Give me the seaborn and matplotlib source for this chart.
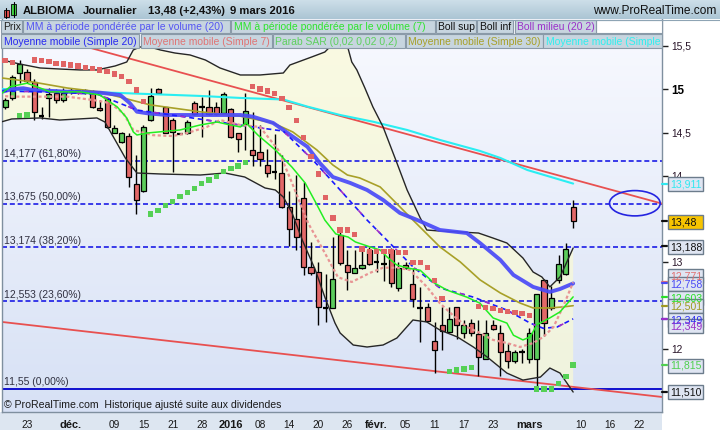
import numpy as np
import pandas as pd
import matplotlib
matplotlib.use("Agg")
import matplotlib.pyplot as plt
import matplotlib.transforms as mtrans
from matplotlib.colors import LinearSegmentedColormap
from matplotlib.patches import Rectangle, Ellipse
import seaborn as sns

sns.set_style("white")
plt.rcParams['font.family'] = ['Liberation Sans', 'DejaVu Sans']

# ---- daily candles, index 0 = 23 nov 2015, 75 = 9 mars 2016 ----
day_idx = list(range(-3, 76))
opens = [14.796, 14.896, 15.185, 15.203, 15.088, 14.70, 14.896, 14.954, 14.876, 14.97,
         14.985, 14.97, 14.972, 14.78, 14.885, 14.50, 14.388, 14.46, 13.906, 13.826,
         14.645, 15.0, 14.79, 14.645, 14.495, 14.49, 14.84, 14.80, 14.80, 14.80,
         14.73, 14.77, 14.49, 14.60, 14.30, 14.27, 14.126, 14.05, 14.037, 13.637,
         13.50, 13.74, 12.95, 12.894, 12.48, 12.47, 13.318, 12.97, 12.882, 12.933,
         13.144, 13.01, 12.995, 13.144, 12.702, 12.97, 12.752, 12.48, 12.483, 12.097,
         12.278, 12.20, 12.483, 12.19, 12.305, 12.174, 11.882, 12.278, 12.183, 11.98,
         11.866, 11.97, 11.882, 11.882, 12.798, 12.47, 12.798, 12.867, 13.637]
highs = [14.90, 15.165, 15.338, 15.234, 15.12, 14.796, 15.015, 15.003, 15.02, 15.02,
         15.0, 15.0, 14.99, 14.876, 14.91, 14.588, 14.51, 14.495, 14.24, 14.588,
         15.01, 15.02, 14.8, 14.668, 14.5, 14.64, 14.86, 14.915, 14.99, 14.85,
         14.97, 14.78, 14.5, 14.96, 14.74, 14.59, 14.307, 14.48, 14.24, 13.82,
         14.01, 13.93, 13.24, 13.009, 12.867, 13.29, 13.383, 13.144, 13.144, 13.18,
         13.18, 13.125, 13.144, 13.164, 13.009, 13.01, 12.933, 12.72, 12.53, 12.317,
         12.49, 12.49, 12.49, 12.336, 12.344, 12.336, 12.336, 12.336, 12.278, 12.067,
         11.99, 12.0, 12.24, 12.633, 12.806, 12.729, 13.087, 13.229, 13.72]
lows = [14.77, 14.876, 15.073, 15.073, 14.645, 14.657, 14.68, 14.84, 14.857, 14.94,
        14.95, 14.94, 14.78, 14.75, 14.55, 14.49, 14.376, 13.876, 13.557, 13.81,
        14.634, 14.957, 14.49, 14.049, 14.48, 14.48, 14.70, 14.45, 14.70, 14.70,
        14.72, 14.44, 14.28, 14.30, 14.11, 14.11, 13.984, 13.96, 13.626, 13.19,
        13.14, 12.856, 12.855, 12.278, 12.317, 12.47, 12.97, 12.683, 12.88, 12.93,
        12.97, 12.894, 12.786, 12.714, 12.674, 12.93, 12.483, 12.086, 12.32, 11.727,
        11.99, 12.20, 12.113, 12.125, 12.151, 11.69, 11.88, 12.22, 11.69, 11.778,
        11.836, 11.843, 11.836, 11.55, 12.151, 12.45, 12.764, 12.855, 13.395]
closes = [14.876, 15.139, 15.292, 15.099, 14.741, 14.69, 14.942, 14.876, 14.954, 14.99,
          14.975, 14.98, 14.80, 14.757, 14.568, 14.55, 14.49, 13.99, 13.72, 14.568,
          14.926, 14.96, 14.50, 14.51, 14.485, 14.626, 14.72, 14.80, 14.72, 14.72,
          14.94, 14.45, 14.43, 14.75, 14.24, 14.20, 14.037, 14.04, 13.644, 13.383,
          13.29, 12.95, 12.88, 12.483, 12.475, 12.806, 12.99, 12.894, 12.933, 12.97,
          12.98, 13.00, 12.985, 12.76, 12.933, 12.933, 12.575, 12.475, 12.324, 11.99,
          12.21, 12.344, 12.278, 12.278, 12.19, 11.912, 12.19, 12.229, 11.97, 11.866,
          11.97, 11.965, 12.183, 12.633, 12.305, 12.587, 12.98, 13.152, 13.48]

# ---- parabolic SAR ----
sar_vals = [15.33, 15.307, 14.695, 14.703, 15.338, 15.33, 15.319, 15.30, 15.292, 15.28,
            15.269, 15.25, 15.238, 15.223, 15.203, 15.177, 15.145, 15.088, 14.99, 14.857,
            13.56, 13.598, 13.656, 13.702, 13.76, 13.806, 13.857, 13.915, 13.953, 13.99,
            14.05, 14.088, 14.114, 14.152, 15.03, 15.003, 14.98, 14.954, 14.896, 14.788,
            14.637, 14.441, 14.222, 14.022, 13.748, 13.514, 13.375, 13.375, 13.326, 13.156,
            13.125, 13.125, 13.125, 13.125, 13.113, 13.113, 12.998, 12.998, 12.94, 12.79,
            12.587, 11.739, 11.759, 11.77, 11.785, 12.49, 12.478, 12.467, 12.443, 12.432,
            12.42, 12.409, 12.386, 11.54, 11.54, 11.54, 11.605, 11.68, 11.815]
sar_trend = (['down'] * 2 + ['up'] * 2 + ['down'] * 16 + ['up'] * 14 + ['down'] * 27
             + ['up'] * 4 + ['down'] * 8 + ['up'] * 6)

# ---- indicators (index, value) ----
bb_up_idx = [-3.4, -1, 1.8, 4.5, 7.3, 9.6, 12.1, 13.7, 14.6, 15.5, 16.9, 18.3, 20.3, 22.4,
             24.5, 26.5, 29.3, 32, 35.2, 36.1, 39.1, 40.9, 42.3, 43.2, 44.0, 44.6, 45.3,
             46.4, 47.5, 48.9, 50.8, 52.2, 54, 54.9, 56.7, 59.5, 62, 64, 65.9, 68.1, 69.5,
             70.7, 71.8, 73.2, 75]
bb_up_val = [15.338, 15.292, 15.246, 15.234, 15.223, 15.223, 15.269, 15.315, 15.454, 15.488,
             15.488, 15.454, 15.419, 15.396, 15.338, 15.246, 15.165, 15.165, 15.188, 15.28,
             15.373, 15.43, 15.55, 15.65, 15.5, 15.315, 15.223, 15.015, 14.796, 14.565,
             14.149, 13.837, 13.514, 13.375, 13.363, 13.352, 13.34, 13.282, 13.225, 13.052,
             12.89, 12.833, 12.718, 12.833, 13.167]
bb_lo_idx = [-3.4, -2.1, 1.8, 4.5, 9.6, 10.7, 12.1, 13.5, 15.1, 18.3, 23.8, 27.2, 29.9, 32.7,
             34.1, 35.2, 36.4, 37.8, 39.6, 40.9, 42.3, 43, 44.8, 46.7, 48.9, 50.8, 53, 54.9,
             56.7, 59.1, 61.3, 63.2, 65.9, 68.1, 70.5, 71.8, 73.2, 75]
bb_lo_val = [14.626, 14.657, 14.669, 14.645, 14.669, 14.622, 14.415, 14.207, 14.033, 14.022,
             14.01, 14.033, 13.987, 13.86, 13.837, 13.756, 13.572, 13.26, 12.913, 12.60,
             12.30, 12.186, 12.047, 12.024, 12.047, 12.128, 12.336, 12.313, 12.22, 12.14,
             12.024, 11.908, 11.723, 11.642, 11.677, 11.781, 11.723, 11.504]
sma20_idx = [-3.4, 1.8, 9.6, 12.1, 15.1, 21, 29.3, 35.2, 39.3, 43, 46.7, 50.8, 53, 56.7,
             61.3, 65.9, 69.1, 70.9, 72.8, 75]
sma20_val = [14.98, 14.97, 14.946, 14.86, 14.76, 14.69, 14.586, 14.517, 14.18, 13.837,
             13.49, 13.14, 12.95, 12.706, 12.60, 12.45, 12.30, 12.24, 12.255, 12.349]
vwma20_idx = [-3.4, -2.1, -0.5, 0.8, 5.5, 10, 12.8, 14.1, 15.1, 16.5, 19.2, 23.8, 29.3, 31,
              33.8, 35.2, 36.5, 38.5, 40.2, 42, 44.4, 46.7, 48.9, 51.2, 53.6, 56.7, 60.4,
              62.2, 65, 66.8, 69.5, 71.8, 73.2, 75]
vwma20_val = [14.972, 15.0, 15.012, 14.992, 14.972, 14.961, 14.934, 14.842, 14.741, 14.723,
              14.703, 14.703, 14.703, 14.684, 14.611, 14.53, 14.453, 14.337, 14.149, 13.987,
              13.918, 13.837, 13.722, 13.572, 13.49, 13.375, 13.34, 13.225, 13.029, 12.856,
              12.718, 12.66, 12.694, 12.758]
sma7_idx = [-3, -1.6, 5.5, 9.1, 11.4, 13.2, 14.6, 17.3, 20, 22, 24.7, 26.5, 29.3, 32, 34.5,
            36.4, 38.6, 40.9, 42.7, 44.6, 47.1, 48.9, 50.8, 52.6, 54.9, 56.7, 58.5, 60.4,
            62.2, 64, 65.9, 67.7, 69.5, 70.9, 72.3, 73.6, 75]
sma7_val = [14.92, 14.915, 14.915, 14.876, 14.84, 14.726, 14.53, 14.47, 14.46, 14.495,
            14.565, 14.645, 14.588, 14.565, 14.30, 13.918, 13.456, 13.11, 12.83, 12.775,
            12.88, 12.94, 12.94, 12.914, 12.72, 12.53, 12.39, 12.256, 12.186, 12.106,
            12.07, 12.024, 12.07, 12.14, 12.255, 12.487, 12.771]
vwma7_idx = [-3.4, -2.3, 0, 1.8, 3.2, 7.3, 10, 11, 12.4, 13.7, 14.6, 15.1, 16.5, 21, 23.8,
             26.1, 27.9, 29.3, 30.1, 31.7, 34.1, 36.4, 38.2, 39.6, 40.9, 42.4, 44.1, 45.1,
             47.1, 48.5, 49.5, 50.8, 52.6, 54, 55.8, 57.7, 60.4, 62.2, 64, 65.9, 66.8,
             68.1, 69.1, 70, 71.8, 73.2, 75]
vwma7_val = [14.957, 15.03, 15.07, 15.015, 14.97, 14.97, 14.934, 14.876, 14.796, 14.669,
             14.507, 14.472, 14.495, 14.53, 14.588, 14.622, 14.588, 14.565, 14.611, 14.472,
             14.30, 14.10, 13.918, 13.70, 13.49, 13.33, 13.294, 13.237, 13.18, 13.144,
             13.06, 12.97, 12.93, 12.91, 12.77, 12.68, 12.60, 12.53, 12.36, 12.30,
             12.16, 12.106, 12.14, 12.28, 12.36, 12.43, 12.603]
sma30_idx = [-3.4, 0.8, 5.5, 10, 16.9, 23.8, 29.3, 33.8, 36.5, 39.8, 42, 44, 45.7, 48.5,
             50.3, 53, 56.7, 59.5, 62.2, 65, 67.7, 69.5, 71.8, 73.6, 75]
sma30_val = [15.13, 15.084, 15.015, 14.969, 14.82, 14.74, 14.69, 14.61, 14.507, 14.30,
             14.126, 14.01, 13.976, 13.872, 13.72, 13.49, 13.18, 13.006, 12.80, 12.648,
             12.532, 12.475, 12.475, 12.487, 12.501]
smalong_idx = [-3.4, 4.5, 12.8, 23.8, 29.3, 35.2, 38.5, 43, 47.5, 52.2, 56.7, 62.2, 65,
               68.7, 75]
smalong_val = [15.003, 14.98, 14.957, 14.923, 14.90, 14.882, 14.80, 14.703, 14.626, 14.53,
               14.415, 14.288, 14.207, 14.068, 13.911]
trend_hi_idx = [-3.4, 87.2]
trend_hi_val = [15.755, 13.68]
trend_lo_idx = [-3.4, 87.2]
trend_lo_val = [12.313, 11.447]

fib_levels = [14.177, 13.675, 13.174, 12.553]
fib_labels = ["14,177 (61,80%)", "13,675 (50,00%)", "13,174 (38,20%)", "12,553 (23,60%)"]
fib_zero = 11.54
fib_zero_label = "11,55 (0,00%)"

tick_pos = [0, 6, 12, 16, 20, 24, 28, 32, 36, 40, 44, 48, 52, 56, 60, 64, 69, 76, 80, 84]
tick_lab = ["23", "déc.", "09", "15", "21", "28", "2016", "08", "14", "20", "26", "févr.",
            "05", "11", "17", "23", "mars", "10", "16", "22"]
bold_ticks = {"déc.", "2016", "févr.", "mars"}
ytick_pos = [12, 13, 14, 14.5, 15, 15.5]
ytick_lab = ["12", "13", "14", "14,5", "15", "15,5"]

# right-hand value tags: text, text colour, box colour, value
tag_text = ["13,911", "13,48", "13,188", "12,771", "12,758", "12,603", "12,501", "12,349",
            "12,349", "11,815", "11,510"]
tag_val = [13.911, 13.48, 13.188, 12.771, 12.758, 12.603, 12.501, 12.349, 12.349, 11.815, 11.51]
tag_col = ['#30e8f0', '#101010', '#101010', '#e07070', '#4a4af5', '#28e028', '#a09a20',
           '#3030f0', '#9a30c8', '#50d050', '#101010']
tag_box = ['#dfe5f2', '#f7c400', '#dfe5f2', '#dfe5f2', '#dfe5f2', '#dfe5f2', '#dfe5f2',
           '#dfe5f2', '#dfe5f2', '#dfe5f2', '#dfe5f2']
tag_ypx = [184, 222, 247.3, 276, 283.7, 297.7, 305.7, 320, 326.3, 365.5, 392]

# ---- figure ----
W, H = 720, 430
fig = plt.figure(figsize=(W / 100, H / 100), dpi=100)
fig.patch.set_facecolor('white')
fig.add_artist(Rectangle((0, 0), 662 / W, 18.3 / H, transform=fig.transFigure,
                         facecolor='#dde6f1', edgecolor='none', zorder=-2))

PX0, PX1, PY0, PY1 = 2, 662, 18, 411.7
ax = fig.add_axes([PX0 / W, 1 - PY1 / H, (PX1 - PX0) / W, (PY1 - PY0) / H])
XMIN, XMAX = -3.43, 87.2
YMIN, YMAX = 11.277, 15.823

bg = LinearSegmentedColormap.from_list('bg', ['#f9faff', '#d7e1f5'])
ax.imshow(np.linspace(0, 1, 256).reshape(-1, 1), cmap=bg, aspect='auto',
          extent=[XMIN, XMAX, YMIN, YMAX], zorder=0)

# bollinger envelope
ax.fill(np.r_[bb_up_idx, bb_lo_idx[::-1]], np.r_[bb_up_val, bb_lo_val[::-1]],
        color='#fbfbd4', alpha=0.68, lw=0, zorder=1)

# fibonacci levels
for v, lab in zip(fib_levels, fib_labels):
    ax.axhline(v, color='#1c1ce6', lw=1.2, dashes=(3, 1.7), zorder=2)
    ax.text(XMIN + 0.25, v + 0.018, lab, fontsize=7.5, color='#303040', va='bottom', zorder=2)
ax.axhline(fib_zero, color='#0000cc', lw=1.3, zorder=2)
ax.text(XMIN + 0.25, fib_zero + 0.018, fib_zero_label, fontsize=7.5, color='#303040',
        va='bottom', zorder=2)


def line(xs, ys, color, lw, dashes=None, z=4, alpha=1.0):
    sns.lineplot(x=xs, y=ys, color=color, linewidth=lw, ax=ax, estimator=None,
                 sort=False, zorder=z, alpha=alpha)
    if dashes is not None:
        ax.lines[-1].set_dashes(dashes)
    return ax.lines[-1]


line(trend_hi_idx, trend_hi_val, '#e85050', 1.3, z=2.5)
line(trend_lo_idx, trend_lo_val, '#e85050', 1.3, z=2.5)

# candles
x = np.array(day_idx, dtype=float)
o, h, l, c = (np.array(a) for a in (opens, highs, lows, closes))
flat = np.abs(c - o) < 0.012
up = (c > o) & ~flat
dn = (c < o) & ~flat
ax.vlines(x, l, h, color='black', lw=1.0, zorder=3)
ax.bar(x[up], (c - o)[up], bottom=o[up], width=0.7, color='#5ccc5c',
       edgecolor='black', lw=0.9, zorder=3.2)
ax.bar(x[dn], (o - c)[dn], bottom=c[dn], width=0.7, color='#e26868',
       edgecolor='black', lw=0.9, zorder=3.2)
ax.hlines(c[flat], x[flat] - 0.38, x[flat] + 0.38, color='black', lw=1.6, zorder=3.2)

# moving averages and bands
line(smalong_idx, smalong_val, '#2aeef2', 1.5)
line(sma30_idx, sma30_val, '#a8a028', 1.2)
line(bb_up_idx, bb_up_val, '#262626', 1.0)
line(bb_lo_idx, bb_lo_val, '#262626', 1.0)
line(vwma20_idx, vwma20_val, '#4a4af8', 2.8, alpha=0.92)
line(sma20_idx, sma20_val, '#1a1aff', 1.2, dashes=(3, 2.2))
pl = line(sma20_idx, sma20_val, '#a030c8', 1.2)
pl.set_linestyle((3.0, (3.0, 13.0)))
line(sma7_idx, sma7_val, '#e89494', 1.6, dashes=(1.4, 1.1))
line(vwma7_idx, vwma7_val, '#22ee22', 1.1)

sar_df = pd.DataFrame({'i': day_idx, 'sar': sar_vals, 'trend': sar_trend})
sns.scatterplot(data=sar_df, x='i', y='sar', hue='trend',
                palette={'up': '#55d055', 'down': '#e06464'}, marker='s', s=15,
                linewidth=0, legend=False, ax=ax, zorder=5)

ax.add_patch(Ellipse((83.47, 13.684), 6.96, 0.292, fill=False, edgecolor='#2424e0',
                     lw=1.2, zorder=6))

ax.set_xlim(XMIN, XMAX)
ax.set_ylim(YMIN, YMAX)
ax.set_xlabel('')
ax.set_ylabel('')
for s in ['left', 'right', 'bottom']:
    ax.spines[s].set_color('#7f8f9f')
    ax.spines[s].set_linewidth(1)
ax.spines['top'].set_visible(False)

ax.yaxis.tick_right()
ax.set_yticks(ytick_pos)
ax.set_yticklabels(ytick_lab)
ax.tick_params(axis='y', length=4, width=1, color='#202020', labelcolor='#281428',
               labelsize=7.4, pad=3)
for t in ax.get_yticklabels():
    if t.get_text() == "15":
        t.set_fontweight('bold')
        t.set_fontsize(8.4)
        t.set_color('#000000')

ax.set_xticks(tick_pos)
ax.set_xticklabels(tick_lab)
ax.tick_params(axis='x', length=4, width=1, color='#7f8f9f', labelcolor='#181818',
               labelsize=7.3, pad=1.8)
for t in ax.get_xticklabels():
    if t.get_text() in bold_ticks:
        t.set_fontweight('bold')
        t.set_fontsize(7.9)

trans = mtrans.blended_transform_factory(ax.transAxes, ax.transData)
for v, col in zip(tag_val, tag_col):
    ax.plot([1.0, 1.008], [v, v], transform=trans, clip_on=False, color=col, lw=1.6,
            zorder=6)

# ---- overlay in pixel coordinates: header, legend boxes, value tags ----
ov = fig.add_axes([0, 0, 1, 1], zorder=10)
ov.axis('off')
hdr = LinearSegmentedColormap.from_list('hdr', ['#cfe0ea', '#abc5d4'])
ov.imshow(np.linspace(0, 1, 64).reshape(-1, 1), cmap=hdr, aspect='auto',
          extent=[0, W, 19.5, 0], zorder=0)
ov.set_xlim(0, W)
ov.set_ylim(H, 0)
ov.plot([0, W], [19.5, 19.5], color='#8ea4b4', lw=0.8)

# icon
ov.plot([6, 6], [8, 18], color='black', lw=0.8)
ov.add_patch(Rectangle((3.5, 10), 5, 6.5, facecolor='#e05050', edgecolor='black', lw=0.6))
ov.plot([13.5, 13.5], [2, 17], color='black', lw=0.8)
ov.add_patch(Rectangle((11, 4), 5, 11, facecolor='#40d040', edgecolor='black', lw=0.6))

for xt, s in [(23, "ALBIOMA"), (83, "Journalier"), (148, "13,48 (+2,43%)"), (230, "9 mars 2016")]:
    ov.text(xt, 11, s, fontsize=8.1, fontweight='bold', color='#101010', va='center')
ov.text(716, 11.5, "www.ProRealTime.com", fontsize=8.6, color='#101010', va='center',
        ha='right')

row1 = [(1, 21.5, "Prix", '#202020'),
        (23, 229.5, "MM à période pondérée par le volume (20)", '#5454f2'),
        (231, 434.5, "MM à période pondérée par le volume (7)", '#2ee42e'),
        (435.5, 476, "Boll sup", '#101010'),
        (477, 513, "Boll inf", '#101010'),
        (514.5, 596, "Boll milieu (20 2)", '#9a30c8')]
row2 = [(1, 139, "Moyenne mobile (Simple 20)", '#2828f0'),
        (140.5, 271.5, "Moyenne mobile (Simple 7)", '#e07474'),
        (272.5, 405, "Parab SAR (0,02 0,02 0,2)", '#5ed05e'),
        (405.5, 542.5, "Moyenne mobile (Simple 30)", '#a8a028'),
        (543, 662, "Moyenne mobile (Simple", '#2ef0f0')]
ov.add_patch(Rectangle((596, 20.3), 66, 13, facecolor='white', edgecolor='#8a9aa8', lw=0.8))
for (y0, y1), row in [((20.3, 33.3), row1), ((34.3, 48.3), row2)]:
    for x0, x1, s, col in row:
        r = Rectangle((x0, y0), x1 - x0, y1 - y0, facecolor='#c7d5df', edgecolor='#8a9aa8',
                      lw=0.8)
        ov.add_patch(r)
        t = ov.text(x0 + 2.5, (y0 + y1) / 2 + 0.5, s, fontsize=7.5, color=col, va='center')
        t.set_clip_path(r)

for s, col, bc, yc in zip(tag_text, tag_col, tag_box, tag_ypx):
    ov.add_patch(Rectangle((667.5, yc - 7), 35.5, 14, facecolor=bc, edgecolor='#6c7c8c',
                           lw=1))
    ov.text(670, yc + 0.5, s, fontsize=7.6, color=col, va='center')

ov.text(4, 404.5, "© ProRealTime.com  Historique ajusté suite aux dividendes", fontsize=7.6,
        color='#1a1a1a', va='center')

fig.savefig('out.png', dpi=100)
